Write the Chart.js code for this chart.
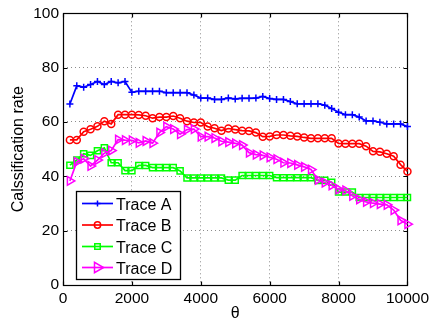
<!DOCTYPE html>
<html>
<head>
<meta charset="utf-8">
<script src="https://cdn.jsdelivr.net/npm/chart.js@4.4.0/dist/chart.umd.min.js"></script>
<style>
  html, body { margin: 0; padding: 0; background: #ffffff; overflow: hidden; }
  canvas { display: block; }
</style>
</head>
<body>
<canvas id="chart" width="433" height="322"></canvas>
<script>
// θ sample positions
const theta = [200, 400, 600, 800, 1000, 1200, 1400, 1600, 1800, 2000,
  2200, 2400, 2600, 2800, 3000, 3200, 3400, 3600, 3800, 4000,
  4200, 4400, 4600, 4800, 5000, 5200, 5400, 5600, 5800, 6000,
  6200, 6400, 6600, 6800, 7000, 7200, 7400, 7600, 7800, 8000,
  8200, 8400, 8600, 8800, 9000, 9200, 9400, 9600, 9800, 10000];

// classification rate per trace
const traceA = [66.6, 73.3, 72.8, 73.8, 74.9, 73.8, 74.9, 74.4, 74.9, 70.9,
  71.3, 71.3, 71.3, 71.3, 70.8, 70.8, 70.8, 70.8, 69.9, 68.8,
  68.8, 68.3, 68.3, 68.8, 68.5, 68.7, 68.7, 68.8, 69.4, 68.6,
  68.3, 68.3, 67.5, 66.7, 66.7, 66.7, 66.7, 66.2, 65.0, 63.6,
  62.7, 62.7, 61.8, 60.4, 60.4, 59.9, 59.3, 59.3, 59.3, 58.3];

const traceB = [53.4, 53.4, 56.4, 57.3, 58.4, 60.3, 59.3, 62.7, 62.7, 62.7,
  62.6, 62.3, 61.4, 61.8, 61.8, 62.2, 61.4, 60.3, 59.8, 59.8,
  58.3, 57.7, 56.8, 57.6, 57.2, 56.8, 56.7, 56.1, 54.6, 54.7,
  55.2, 55.2, 54.9, 54.7, 54.3, 54.0, 54.0, 54.0, 54.0, 52.1,
  52.0, 52.0, 52.0, 51.1, 49.2, 49.0, 48.3, 47.4, 44.3, 41.8];

const traceC = [44.1, 46.0, 48.3, 47.7, 49.4, 50.5, 45.0, 45.0, 42.1, 42.1,
  44.0, 44.0, 43.2, 43.2, 43.2, 43.2, 42.0, 39.4, 39.4, 39.4,
  39.4, 39.4, 39.4, 38.6, 38.6, 40.3, 40.3, 40.3, 40.3, 40.3,
  39.5, 39.5, 39.5, 39.5, 39.5, 39.5, 38.5, 38.5, 37.8, 34.2,
  34.2, 34.2, 32.2, 32.2, 32.2, 32.2, 32.2, 32.2, 32.2, 32.2];

const traceD = [38.3, 45.3, 46.5, 43.8, 46.0, 48.5, 49.5, 53.5, 53.3, 53.2,
  52.3, 53.0, 52.2, 56.1, 58.3, 57.4, 55.5, 57.2, 57.4, 54.6,
  54.6, 54.1, 52.9, 52.6, 52.1, 51.5, 48.7, 48.0, 47.7, 47.0,
  46.3, 45.0, 44.9, 44.2, 43.5, 42.5, 38.7, 37.7, 36.7, 35.2,
  34.8, 32.8, 31.5, 30.6, 30.1, 29.8, 29.5, 27.6, 23.8, 22.4];

const seriesNames = ['Trace A', 'Trace B', 'Trace C', 'Trace D'];
const xTicks = [0, 2000, 4000, 6000, 8000, 10000];
const yTicks = [0, 20, 40, 60, 80, 100];

const FONT = "'Liberation Sans', Arial, Helvetica, sans-serif";

const styles = [
  { color: '#0000ff', pointStyle: 'cross', radius: 3.5, rotation: 0 },
  { color: '#ff0000', pointStyle: 'circle', radius: 3.5, rotation: 0 },
  { color: '#00ff00', pointStyle: 'rect', radius: 4.3, rotation: 0 },
  { color: '#ff00ff', pointStyle: 'triangle', radius: 5, rotation: 90 }
];

const values = [traceA, traceB, traceC, traceD];

const datasets = values.map((vals, i) => ({
  label: seriesNames[i],
  data: theta.map((t, k) => ({ x: t, y: vals[k] })),
  borderColor: styles[i].color,
  backgroundColor: 'rgba(0,0,0,0)',
  borderWidth: 1.7,
  pointStyle: styles[i].pointStyle,
  pointRadius: styles[i].radius,
  pointRotation: styles[i].rotation,
  pointBorderColor: styles[i].color,
  pointBackgroundColor: 'rgba(0,0,0,0)',
  pointBorderWidth: 1.5,
  tension: 0,
  fill: false,
  clip: false,
  // first trace underneath, last trace on top
  order: 4 - i
}));

// axes box with inward tick marks
const boxPlugin = {
  id: 'box',
  beforeDatasetsDraw(chart) {
    const { ctx, chartArea: a, scales } = chart;
    ctx.save();
    ctx.strokeStyle = '#000';
    ctx.lineWidth = 1.2;
    const L = Math.round(a.left) + 0.5, R = Math.round(a.right) + 0.5;
    const T = Math.round(a.top) + 0.5, B = Math.round(a.bottom) + 0.5;
    ctx.strokeRect(L, T, R - L, B - T);
    const len = 4;
    ctx.beginPath();
    xTicks.forEach(v => {
      const px = Math.round(scales.x.getPixelForValue(v)) + 0.5;
      ctx.moveTo(px, B); ctx.lineTo(px, B - len);
      ctx.moveTo(px, T); ctx.lineTo(px, T + len);
    });
    yTicks.forEach(v => {
      const py = Math.round(scales.y.getPixelForValue(v)) + 0.5;
      ctx.moveTo(L, py); ctx.lineTo(L + len, py);
      ctx.moveTo(R, py); ctx.lineTo(R - len, py);
    });
    ctx.stroke();
    ctx.restore();
  }
};

function drawMarker(ctx, style, x, y, r, rot) {
  ctx.beginPath();
  if (style === 'cross') {
    ctx.moveTo(x - r, y); ctx.lineTo(x + r, y);
    ctx.moveTo(x, y - r); ctx.lineTo(x, y + r);
  } else if (style === 'circle') {
    ctx.arc(x, y, r, 0, Math.PI * 2);
  } else if (style === 'rect') {
    const s = r * Math.SQRT1_2;
    ctx.rect(x - s, y - s, 2 * s, 2 * s);
  } else if (style === 'triangle') {
    let rad = rot * Math.PI / 180;
    ctx.moveTo(x + Math.sin(rad) * r, y - Math.cos(rad) * r);
    rad += 2 * Math.PI / 3;
    ctx.lineTo(x + Math.sin(rad) * r, y - Math.cos(rad) * r);
    rad += 2 * Math.PI / 3;
    ctx.lineTo(x + Math.sin(rad) * r, y - Math.cos(rad) * r);
    ctx.closePath();
  }
  ctx.stroke();
}

// boxed legend in the lower-left corner of the plot
const legendPlugin = {
  id: 'boxLegend',
  afterDraw(chart) {
    const { ctx } = chart;
    const bx = 76.5, by = 191.5, bw = 104, bh = 88;
    ctx.save();
    ctx.fillStyle = '#ffffff';
    ctx.fillRect(bx, by, bw, bh);
    ctx.strokeStyle = '#000';
    ctx.lineWidth = 1.3;
    ctx.strokeRect(bx, by, bw, bh);
    const rows = [203.5, 225, 246.5, 267.5];
    chart.data.datasets.forEach((ds, i) => {
      const y = rows[i];
      ctx.strokeStyle = ds.borderColor;
      ctx.lineWidth = 1.7;
      ctx.beginPath();
      ctx.moveTo(82, y); ctx.lineTo(113, y);
      ctx.stroke();
      ctx.lineWidth = 1.5;
      const st = styles[i];
      const r = st.pointStyle === 'triangle' ? 6 : (st.pointStyle === 'cross' ? 3 : st.radius * 0.9);
      drawMarker(ctx, st.pointStyle, 97.5, y, r, st.rotation);
      ctx.fillStyle = '#000';
      ctx.font = '16px ' + FONT;
      ctx.textBaseline = 'alphabetic';
      ctx.textAlign = 'left';
      ctx.fillText(ds.label, 116, y + 6);
    });
    ctx.restore();
  }
};

new Chart(document.getElementById('chart'), {
  type: 'line',
  data: { datasets },
  plugins: [boxPlugin, legendPlugin],
  options: {
    responsive: false,
    animation: false,
    devicePixelRatio: 1,
    layout: { padding: { top: 12, right: 24, left: 0, bottom: 0 } },
    plugins: { legend: { display: false }, tooltip: { enabled: false } },
    scales: {
      x: {
        type: 'linear',
        min: 0, max: 10000,
        afterBuildTicks: s => { s.ticks = xTicks.map(v => ({ value: v })); },
        afterFit: s => { s.height = 37; },
        grid: { color: '#8c8c8c', lineWidth: 1, drawTicks: false },
        border: { display: false, dash: [1, 3] },
        ticks: {
          color: '#000', padding: 4, maxRotation: 0,
          font: { family: FONT, size: 15.5 },
          callback: v => String(v)
        },
        title: {
          display: true, text: 'θ', color: '#000',
          font: { family: FONT, size: 16, lineHeight: 1 },
          padding: { top: 0, bottom: 0 }
        }
      },
      y: {
        min: 0, max: 100,
        afterBuildTicks: s => { s.ticks = yTicks.map(v => ({ value: v })); },
        afterFit: s => { s.width = 63; },
        grid: { color: '#8c8c8c', lineWidth: 1, drawTicks: false },
        border: { display: false, dash: [1, 3] },
        ticks: {
          color: '#000', padding: 4,
          font: { family: FONT, size: 15.5 },
          callback: v => String(v)
        },
        title: {
          display: true, text: 'Calssification rate', color: '#000',
          font: { family: FONT, size: 16, lineHeight: 1 },
          padding: { top: 10.5, bottom: 0 }
        }
      }
    }
  }
});
</script>
</body>
</html>
